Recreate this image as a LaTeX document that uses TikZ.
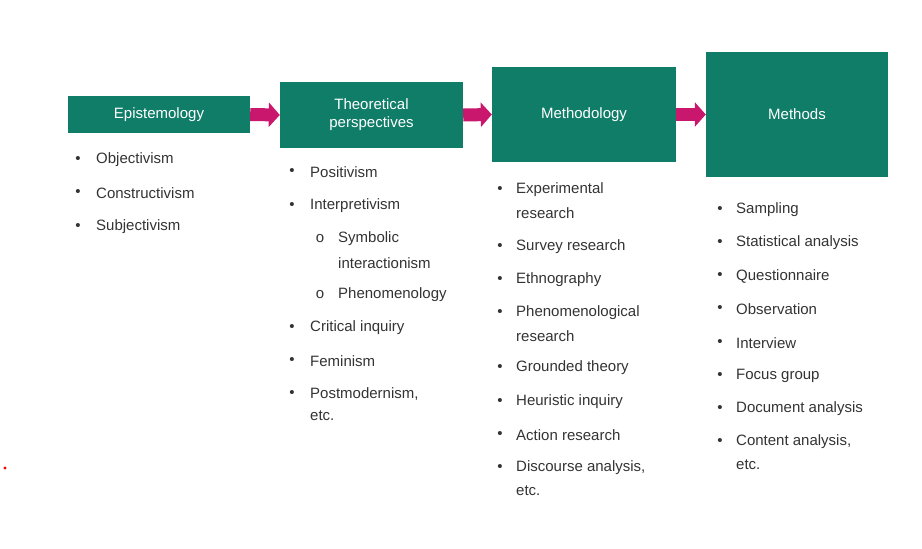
\documentclass[tikz,border=0pt]{standalone}
\usepackage{fontspec}
\setmainfont{Liberation Sans}
\usetikzlibrary{arrows.meta}
\definecolor{teal1}{HTML}{107D68}
\definecolor{mag}{HTML}{C8176C}
\definecolor{txt}{HTML}{333333}
\tikzset{
  hbox/.style={fill=teal1,text=white,font=\fontsize{15}{18}\selectfont,align=center,inner sep=0},
  conn/.style={draw=mag,line width=13pt,-{Triangle[length=11pt,width=24pt]},shorten >=0pt},
  item/.style={anchor=west,text=txt,font=\fontsize{15}{17}\selectfont,inner sep=0},
  bul/.style={anchor=center,text=txt,font=\fontsize{15}{17}\selectfont,inner sep=0}
}
\begin{document}
\begin{tikzpicture}[x=1pt,y=-1pt]
\useasboundingbox (0,0) rectangle (922,549);
\node[hbox,minimum width=182pt,minimum height=37pt] (ep) at (159,114.5) {Epistemology};
\node[hbox,minimum width=183pt,minimum height=66pt] (tp) at (371.5,115) {Theoretical\\perspectives};
\node[hbox,minimum width=184pt,minimum height=95pt] (my) at (584,114.5) {Methodology};
\node[hbox,minimum width=182pt,minimum height=125pt] (ms) at (797,114.5) {Methods};
\draw[conn] (ep.east) -- (tp.west);
\draw[conn] (tp.east) -- (my.west);
\draw[conn] (my.east|-ep.east) -- (ms.west|-ep.east);
% Epistemology list
\foreach \t/\y [count=\i] in {Objectivism/160,Constructivism/193,Subjectivism/227}{
  \node[bul] (eb\i) at (78,\y) {•}; \node[item] (et\i) at (96,\y) {\t};}
% Theoretical perspectives
\foreach \t/\y [count=\i] in {Positivism/172,Interpretivism/206,Critical inquiry/328,Feminism/361,{Postmodernism,}/394}{
  \node[bul] (tb\i) at (292,\y) {•}; \node[item] (tt\i) at (310,\y) {\t};}
\node[item] (tt6) at (310,416) {etc.};
\node[bul] (so1) at (320,239) {o}; \node[item] (st1) at (338,239) {Symbolic};
\node[item] (st2) at (338,263) {interactionism};
\node[bul] (so2) at (320,295) {o}; \node[item] (st3) at (338,295) {Phenomenology};
% Methodology
\foreach \t/\y [count=\i] in {Experimental/190,Survey research/247,Ethnography/280,Phenomenological/313,Grounded theory/368,Heuristic inquiry/402,Action research/435,{Discourse analysis,}/468}{
  \node[bul] (mb\i) at (500,\y) {•}; \node[item] (mt\i) at (516,\y) {\t};}
\node[item] (mr1) at (516,213) {research};
\node[item] (mr2) at (516,336) {research};
\node[item] (mr3) at (516,491) {etc.};
% Methods
\foreach \t/\y [count=\i] in {Sampling/210,Statistical analysis/243,Questionnaire/276,Observation/309,Interview/343,Focus group/376,Document analysis/409,{Content analysis,}/442}{
  \node[bul] (sb\i) at (720,\y) {•}; \node[item] (st\i x) at (736,\y) {\t};}
\node[item] (se) at (736,465) {etc.};
\fill[red] (5,468) circle (1.6pt);
\end{tikzpicture}
\end{document}
